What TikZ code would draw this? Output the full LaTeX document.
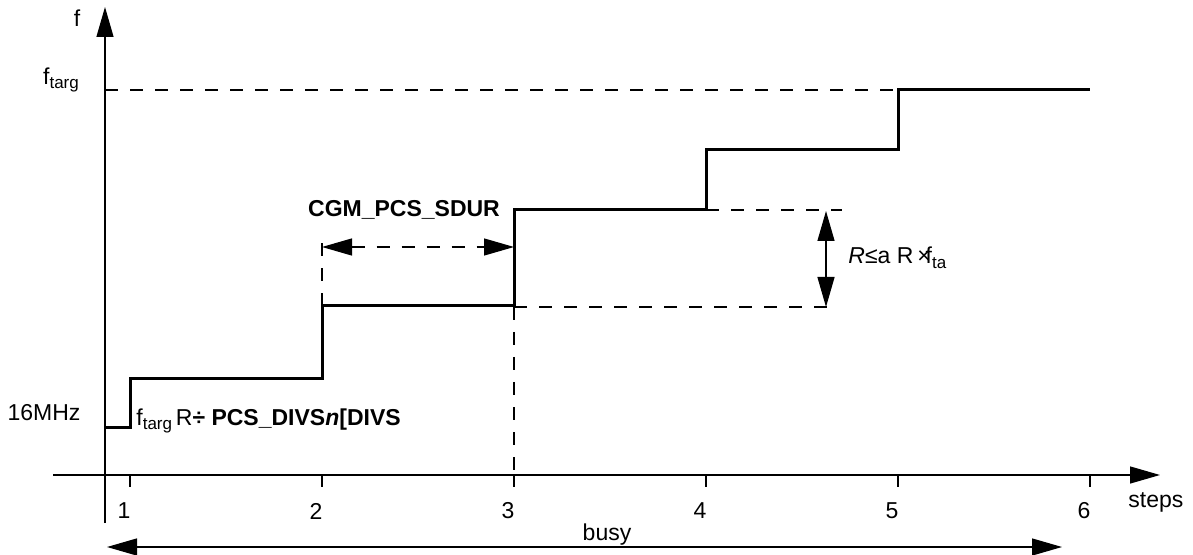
\documentclass[tikz,border=0pt]{standalone}
\usepackage{fontspec}
\setmainfont{Liberation Sans}
\usetikzlibrary{positioning, arrows.meta}

\newcommand{\lowtxt}[1]{\raisebox{-0.4ex}{\fontsize{8.5}{9}\selectfont #1}}

\begin{document}
\begin{tikzpicture}[
    x=0.5pt, y=-0.5pt,
    lbl/.style={inner sep=0pt, font=\fontsize{11.5}{13}\selectfont},
    bold/.style={lbl, font=\fontsize{11.5}{13}\selectfont\bfseries},
    axis/.style={line width=0.65pt, -{Triangle[length=15pt, width=8.5pt]}},
    thin/.style={line width=0.65pt},
    guide/.style={line width=0.65pt, dash pattern=on 6.5pt off 6pt},
    stair/.style={line width=1.5pt, line join=miter},
    dim/.style={line width=0.65pt, {Triangle[length=15pt, width=8.5pt]}-{Triangle[length=15pt, width=8.5pt]}},
]
\useasboundingbox (0,0) rectangle (1193,555);

% axes
\coordinate (ybot) at (105,523);
\coordinate (ytop) at (105,7);
\coordinate (xleft) at (53,475);
\coordinate (xright) at (1160,475);
\draw[axis] (ybot) -- (ytop);
\draw[axis] (xleft) -- (xright);
\node[lbl] (flbl) at (77,18) {f};
\node[lbl, anchor=west] (steps) at (1128,502) {steps};

% ticks and step numbers
\foreach \i/\x in {1/130, 2/322, 3/514, 4/706, 5/898, 6/1090} {
    \coordinate (tk\i) at (\x,475);
    \draw[thin] (tk\i) -- ++(0,12);
    \node[lbl] (n\i) at (\x-6,511) {\i};
}

% frequency levels
\node[lbl] (ftarg) at (61,80) {f\lowtxt{targ}};
\node[lbl] (f16) at (44,413) {16MHz};
\coordinate (targa) at (105,90);
\coordinate (targb) at (1090,90);
\draw[guide] (targa) -- (targb);

% staircase
\draw[stair] (105,427) -| (130,379) -| (322,306) -| (514,210) -| (706,150) -| (898,90) -- (1090,90);
\node[lbl, anchor=west] (divs) at (136,421) {f\lowtxt{targ}\,R\textbf{÷ PCS\_DIVS\textit{n}[DIVS}};

% step duration
\coordinate (d2a) at (322,306);
\coordinate (d2b) at (322,233);
\coordinate (d3a) at (514,307);
\coordinate (d3b) at (514,475);
\draw[guide] (d2a) -- (d2b);
\draw[guide] (d3a) -- (d3b);
\coordinate (sdl) at (322,247);
\coordinate (sdr) at (514,247);
\draw[dim, dash pattern=on 6.5pt off 6pt] (sdl) -- (sdr);
\node[bold] (sdur) at (404,210) {CGM\_PCS\_SDUR};

% step height
\coordinate (h1a) at (706,210);
\coordinate (h1b) at (842,210);
\coordinate (h2b) at (835,307);
\draw[guide] (h1a) -- (h1b);
\draw[guide] (d3a) -- (h2b);
\coordinate (hup) at (826,211);
\coordinate (hdn) at (826,307);
\draw[dim] (hup) -- (hdn);
\node[lbl, anchor=west] (ratio) at (848,258) {\textit{R}≤a R\,×\kern-2.5pt f\lowtxt{ta}};

% busy
\coordinate (bl) at (107,547);
\coordinate (br) at (1062,547);
\draw[dim] (bl) -- (br);
\node[lbl] (busy) at (607,535) {busy};

\end{tikzpicture}
\end{document}
